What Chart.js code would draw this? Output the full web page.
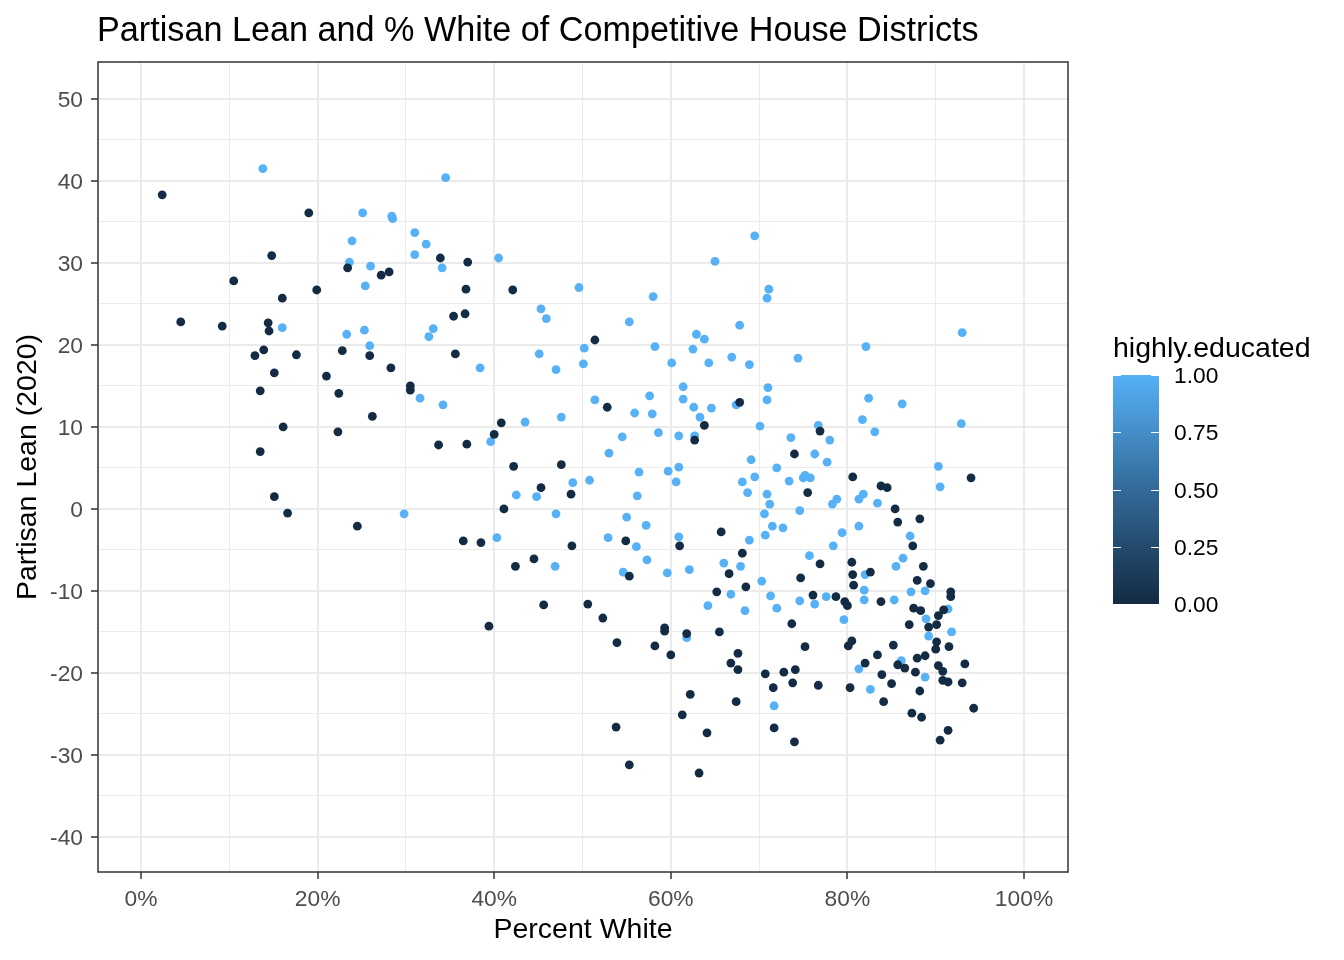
<!DOCTYPE html>
<html>
<head>
<meta charset="utf-8">
<script src="https://cdn.jsdelivr.net/npm/chart.js@4.4.1/dist/chart.umd.min.js"></script>
<style>
  html, body { margin: 0; padding: 0; background: #fff; }
  canvas { display: block; }
</style>
</head>
<body>
<canvas id="chart" width="1344" height="960"></canvas>
<script>
// districts where highly.educated = 0 (dark)
const lowX = [
  2.4,19.0,14.8,23.4,27.2,28.1,10.5,16.0,19.9,4.5,
  9.2,14.4,14.5,13.9,12.9,17.6,22.8,25.9,15.1,21.0,
  28.3,13.5,22.4,30.5,30.5,26.2,16.1,22.3,13.5,15.1,
  16.6,24.5,33.9,37.0,36.8,42.1,35.4,36.7,51.4,35.6,
  52.8,40.8,40.0,33.7,36.9,62.7,42.2,47.6,45.3,48.7,
  41.1,36.5,38.5,54.9,61.0,48.8,44.5,42.4,55.3,45.6,
  50.6,52.3,39.4,59.3,59.3,61.8,53.9,58.2,60.0,62.2,
  61.3,53.8,55.3,63.2,67.8,63.8,76.9,74.0,80.6,94.0,
  83.8,84.5,75.5,85.4,85.7,88.2,65.7,87.4,68.1,76.9,
  80.5,88.6,66.6,80.6,82.6,74.7,80.7,87.9,89.4,65.2,
  68.5,76.1,78.7,79.7,80.0,83.8,91.7,91.7,87.5,88.3,
  90.9,90.3,73.7,87.0,89.2,90.1,65.5,80.5,80.1,75.2,
  85.2,90.1,90.0,91.5,67.6,83.4,66.8,67.6,82.0,85.7,
  86.5,87.9,88.8,90.3,90.8,93.3,70.7,72.8,74.1,83.9,
  87.7,90.8,91.4,93.0,71.6,73.8,76.7,80.3,85.0,88.2,
  67.4,84.1,87.3,88.4,94.3,64.1,71.7,74.0,91.4,90.5
];
const lowY = [
  38.3,36.1,30.9,29.4,28.5,28.9,27.8,25.7,26.7,22.8,
  22.3,22.7,21.7,19.4,18.7,18.8,19.3,18.7,16.6,16.2,
  17.2,14.4,14.1,15.0,14.5,11.3,10.0,9.4,7.0,1.5,
  -0.5,-2.1,30.6,30.1,26.8,26.7,23.5,23.8,20.6,18.9,
  12.4,10.5,9.1,7.8,7.9,8.4,5.2,5.4,2.6,1.8,
  0.0,-3.9,-4.1,-3.9,-4.5,-4.5,-6.1,-7.0,-8.2,-11.7,
  -11.6,-13.3,-14.3,-14.5,-14.9,-15.2,-16.3,-16.7,-17.8,-22.6,
  -25.1,-26.6,-31.2,-32.2,13.0,10.2,9.5,6.7,3.9,3.8,
  2.8,2.6,2.0,0.0,-1.6,-1.2,-2.8,-4.5,-5.4,-6.7,
  -6.5,-7.0,-7.9,-8.0,-7.7,-8.4,-9.3,-8.7,-9.1,-10.1,
  -9.5,-10.5,-10.7,-11.3,-11.8,-11.3,-10.1,-10.7,-12.1,-12.4,
  -12.3,-13.0,-14.0,-14.1,-14.4,-14.1,-15.0,-16.1,-16.7,-16.8,
  -16.6,-16.2,-17.1,-16.8,-17.6,-17.8,-18.8,-19.6,-18.8,-19.0,
  -19.4,-18.2,-17.9,-19.1,-19.8,-18.9,-20.1,-19.9,-19.6,-20.2,
  -19.9,-20.9,-21.1,-21.2,-21.8,-21.2,-21.5,-21.8,-21.3,-22.2,
  -23.5,-23.5,-24.9,-25.4,-24.3,-27.3,-26.7,-28.4,-27.0,-28.2
];

// districts where highly.educated = 1 (light)
const highX = [
  13.8,25.1,28.4,28.5,31.0,23.9,31.0,23.6,26.0,25.4,
  16.0,23.3,25.3,25.9,31.6,29.8,34.5,32.3,34.1,40.5,
  49.6,58.0,45.3,45.9,33.1,32.6,55.3,62.9,50.2,58.2,
  62.5,45.1,50.1,60.1,38.4,47.0,61.4,61.4,34.2,51.4,
  57.6,55.9,57.9,62.6,63.3,43.5,47.6,39.6,54.5,58.6,
  60.9,62.7,53.0,56.4,59.7,60.9,60.6,48.9,50.8,42.5,
  44.8,56.2,47.0,55.0,57.2,40.3,52.9,56.1,60.9,46.9,
  57.3,54.6,59.6,62.1,61.8,69.5,65.0,71.1,70.9,67.8,
  63.8,93.0,82.1,66.9,74.4,64.3,68.9,71.0,70.9,67.4,
  64.6,70.1,76.7,82.4,86.2,81.7,83.1,92.9,73.6,78.0,
  76.3,69.1,77.7,72.0,90.3,69.5,68.1,73.4,75.0,75.2,
  75.8,90.5,68.7,70.9,81.8,81.3,83.4,71.2,78.8,78.3,
  70.6,74.6,71.5,72.7,81.3,79.4,70.7,87.1,68.9,78.4,
  75.7,86.3,66.0,67.9,85.5,82.0,70.3,81.9,81.9,66.8,
  64.2,68.4,71.3,72.0,74.6,76.3,77.6,85.3,87.2,88.8,
  91.4,88.9,79.6,89.2,91.8,86.1,81.3,88.8,82.6,71.7
];
const highY = [
  41.5,36.1,35.7,35.4,33.7,32.7,31.0,30.1,29.6,27.2,
  22.1,21.3,21.8,19.9,13.5,-0.6,40.4,32.3,29.4,30.6,
  27.0,25.9,24.4,23.2,22.0,21.0,22.8,21.3,19.6,19.8,
  19.5,18.9,17.7,17.8,17.2,17.0,14.9,13.4,12.7,13.3,
  13.8,11.7,11.6,12.4,11.2,10.6,11.2,8.2,8.8,9.3,
  8.9,8.9,6.8,4.5,4.6,5.1,3.3,3.2,3.5,1.7,
  1.5,1.6,-0.6,-1.0,-2.0,-3.5,-3.5,-4.6,-3.4,-7.0,
  -6.2,-7.7,-7.8,-7.4,-15.7,33.3,30.2,26.8,25.7,22.4,
  20.7,21.5,19.8,18.5,18.4,17.8,17.6,14.8,13.3,12.7,
  12.3,10.1,10.2,13.5,12.8,10.9,9.4,10.4,8.7,8.4,
  6.7,6.0,5.7,5.0,5.2,3.9,3.3,3.4,3.8,4.1,
  3.8,2.7,2.0,1.8,1.8,1.2,0.7,0.6,1.2,0.6,
  -0.6,-0.2,-2.1,-2.3,-2.1,-2.9,-3.2,-3.3,-3.8,-4.5,
  -5.7,-6.0,-6.6,-7.0,-7.0,-8.0,-8.8,-9.9,-11.1,-10.4,
  -11.8,-12.4,-10.6,-12.1,-11.2,-11.6,-10.7,-11.1,-10.1,-10.0,
  -12.2,-13.4,-13.5,-15.5,-15.0,-18.5,-19.5,-20.5,-22.0,-24.0
];

const xTickValues = [0,10,20,30,40,50,60,70,80,90,100];
const yTickValues = [-40,-35,-30,-25,-20,-15,-10,-5,0,5,10,15,20,25,30,35,40,45,50];
const legendTicks = [0, 0.25, 0.5, 0.75, 1];

const LOW_COLOR = '#132B43';
const HIGH_COLOR = '#56B1F7';
const FONT = '"Liberation Sans", Arial, sans-serif';

const toPoints = (xs, ys) => xs.map((x, i) => ({ x: x, y: ys[i] }));
const isMajorX = v => v % 20 === 0;
const isMajorY = v => v % 10 === 0;

Chart.defaults.font.family = FONT;

// title, panel border and the colour bar legend (ggplot style)
const extras = {
  id: 'extras',
  afterDraw(chart) {
    const ctx = chart.ctx;
    const area = chart.chartArea;
    ctx.save();

    ctx.strokeStyle = '#333333';
    ctx.lineWidth = 1.5;
    ctx.strokeRect(area.left, area.top, area.right - area.left, area.bottom - area.top);

    ctx.fillStyle = '#000';
    ctx.font = '34.2px ' + FONT;
    ctx.textAlign = 'left';
    ctx.textBaseline = 'alphabetic';
    ctx.fillText('Partisan Lean and % White of Competitive House Districts', 97, 41);

    // colour bar
    const barL = 1113, barR = 1159, barTop = 375, barBot = 604;
    ctx.font = '28.5px ' + FONT;
    ctx.fillText('highly.educated', 1113, 357);

    const grad = ctx.createLinearGradient(0, barBot, 0, barTop);
    grad.addColorStop(0, LOW_COLOR);
    grad.addColorStop(0.5, '#336A98');
    grad.addColorStop(1, HIGH_COLOR);
    ctx.fillStyle = grad;
    ctx.fillRect(barL, barTop, barR - barL, barBot - barTop);

    ctx.strokeStyle = '#ffffff';
    ctx.lineWidth = 1;
    ctx.font = '22.8px ' + FONT;
    ctx.textBaseline = 'middle';
    legendTicks.forEach(v => {
      const y = Math.round(barBot - v * (barBot - barTop)) + 0.5;
      ctx.beginPath();
      ctx.moveTo(barL, y); ctx.lineTo(barL + 8, y);
      ctx.moveTo(barR - 8, y); ctx.lineTo(barR, y);
      ctx.stroke();
      ctx.fillStyle = '#000';
      ctx.fillText(v.toFixed(2), 1174, y + 1.5);
    });
    ctx.restore();
  }
};

new Chart(document.getElementById('chart'), {
  type: 'scatter',
  data: {
    datasets: [
      {
        label: '0',
        data: toPoints(lowX, lowY),
        backgroundColor: LOW_COLOR,
        pointRadius: 4.4,
        pointBorderWidth: 0,
        order: 1
      },
      {
        label: '1',
        data: toPoints(highX, highY),
        backgroundColor: HIGH_COLOR,
        pointRadius: 4.4,
        pointBorderWidth: 0,
        order: 2
      }
    ]
  },
  options: {
    responsive: false,
    animation: false,
    devicePixelRatio: 1,
    layout: { padding: { top: 62, right: 276, left: 0, bottom: 0 } },
    plugins: {
      legend: { display: false },
      title: { display: false },
      tooltip: { enabled: false }
    },
    scales: {
      x: {
        type: 'linear',
        min: -4.87,
        max: 104.98,
        afterBuildTicks: axis => { axis.ticks = xTickValues.map(v => ({ value: v })); },
        afterFit: axis => { axis.height = 88; },
        ticks: {
          callback: v => isMajorX(v) ? v + '%' : '',
          color: '#4D4D4D',
          font: { size: 22.8 },
          padding: 7,
          maxRotation: 0,
          autoSkip: false
        },
        grid: {
          color: '#EBEBEB',
          lineWidth: c => (c.tick && isMajorX(c.tick.value)) ? 2 : 1,
          tickColor: c => (c.tick && isMajorX(c.tick.value)) ? '#333333' : 'rgba(0,0,0,0)',
          tickWidth: 1.5,
          tickLength: 7
        },
        border: { display: false },
        title: {
          display: true,
          text: 'Percent White',
          color: '#000',
          font: { size: 28.5 },
          padding: 13
        }
      },
      y: {
        type: 'linear',
        min: -44.27,
        max: 54.5,
        afterBuildTicks: axis => { axis.ticks = yTickValues.map(v => ({ value: v })); },
        afterFit: axis => { axis.width = 98; },
        ticks: {
          callback: v => isMajorY(v) ? String(v) : '',
          color: '#4D4D4D',
          font: { size: 22.8 },
          padding: 8,
          labelOffset: 1.5,
          autoSkip: false
        },
        grid: {
          color: '#EBEBEB',
          lineWidth: c => (c.tick && isMajorY(c.tick.value)) ? 2 : 1,
          tickColor: c => (c.tick && isMajorY(c.tick.value)) ? '#333333' : 'rgba(0,0,0,0)',
          tickWidth: 1.5,
          tickLength: 7
        },
        border: { display: false },
        title: {
          display: true,
          text: 'Partisan Lean (2020)',
          color: '#000',
          font: { size: 28.5 },
          padding: 11
        }
      }
    }
  },
  plugins: [extras]
});
</script>
</body>
</html>
